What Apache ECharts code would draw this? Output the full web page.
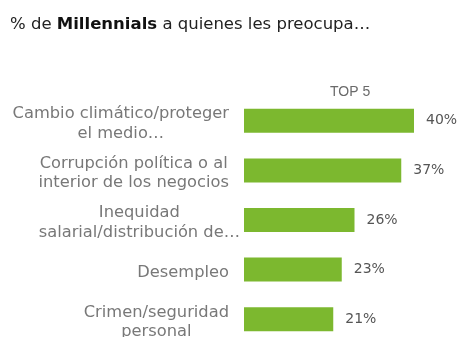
<!DOCTYPE html>
<html>
<head>
<meta charset="utf-8">
<script src="https://cdn.jsdelivr.net/npm/echarts@6/dist/echarts.min.js"></script>
<style>
  html, body { margin: 0; padding: 0; background: #fff; }
  #chart { width: 461px; height: 337px; }
</style>
</head>
<body>
<div id="chart"></div>
<script>
// Concerns ranked top to bottom
const categories = [
  'Cambio climático/proteger\nel medio…',
  'Corrupción política o al\ninterior de los negocios',
  'Inequidad\nsalarial/distribución de…',
  'Desempleo',
  'Crimen/seguridad\npersonal'
];
const values = [40, 37, 26, 23, 21];

// Each line of a category label is centred inside its own block,
// and the block itself sits right-aligned against the bars.
const centredLines = (text) =>
  text.split('\n').map((line) => '{c|' + line + '}').join('\n');

// The long third label runs a little past the others' right edge.
const categoryData = categories.map((name, i) =>
  i === 2
    ? { value: name, textStyle: { padding: [6, -11, 0, 0] } }
    : name
);

const chart = echarts.init(document.getElementById('chart'));
chart.setOption({
  backgroundColor: '#ffffff',
  animation: false,
  title: [
    {
      left: 10,
      top: 16,
      padding: 0,
      text: '{n|% de }{b|Millennials}{n| a quienes les preocupa…}',
      textStyle: {
        fontWeight: 'normal',
        rich: {
          n: { fontFamily: 'DejaVu Sans', fontSize: 16.5, fontWeight: 'normal', color: '#222' },
          b: { fontFamily: 'DejaVu Sans', fontSize: 16.5, fontWeight: 'bold', color: '#111' }
        }
      }
    },
    {
      left: 330,
      top: 85,
      padding: 0,
      text: 'TOP 5',
      textStyle: { fontFamily: 'Liberation Sans', fontSize: 14, fontWeight: 'normal', color: '#6a6a6a' }
    }
  ],
  grid: { left: 244, top: 96, width: 170, height: 248, outerBoundsMode: 'none' },
  xAxis: {
    type: 'value',
    min: 0,
    max: 40,
    show: false
  },
  yAxis: {
    type: 'category',
    inverse: true,
    data: categoryData,
    axisLine: { show: false },
    axisTick: { show: false },
    splitLine: { show: false },
    axisLabel: {
      margin: 15,
      fontFamily: 'DejaVu Sans',
      fontSize: 16.3,
      lineHeight: 19.5,
      color: '#787878',
      align: 'right',
      padding: [6, 0, 0, 0],
      formatter: centredLines,
      rich: {
        c: {
          align: 'center',
          fontFamily: 'DejaVu Sans',
          fontSize: 16.3,
          lineHeight: 19.5,
          color: '#787878'
        }
      }
    }
  },
  series: [{
    type: 'bar',
    data: values,
    barWidth: 24,
    itemStyle: { color: '#7cb82f' },
    label: {
      show: true,
      position: 'right',
      distance: 12,
      formatter: '{c}%',
      fontFamily: 'DejaVu Sans',
      fontSize: 14,
      color: '#555'
    }
  }]
});
</script>
</body>
</html>
